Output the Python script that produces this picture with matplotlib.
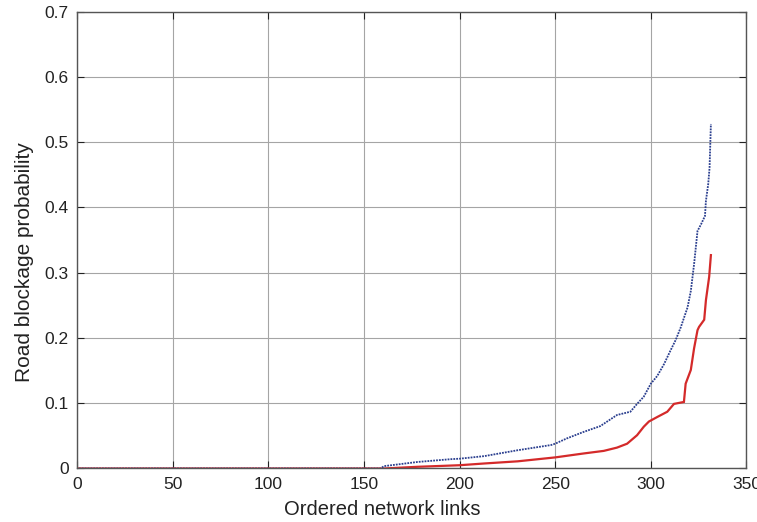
import matplotlib
matplotlib.use("Agg")
import matplotlib.pyplot as plt

# Upper (blue, dotted) series: ordered link index vs blockage probability
blue_x = [1, 158.7, 160.5, 178, 195.5, 200, 213, 230.4, 247.9, 250, 256, 264.8, 273.6,
          282.3, 289.3, 292.8, 296.3, 300, 303.4, 306.9, 310.3, 313, 315.6, 319.2,
          320.9, 322.6, 324.4, 326.2, 328.3, 328.8, 330, 330.7, 331.4]
blue_y = [0, 0, 0.0036, 0.010, 0.0143, 0.015, 0.019, 0.028, 0.036, 0.038, 0.046, 0.056,
          0.065, 0.082, 0.087, 0.099, 0.110, 0.130, 0.142, 0.160, 0.181, 0.197, 0.216,
          0.247, 0.272, 0.313, 0.364, 0.374, 0.387, 0.410, 0.436, 0.461, 0.528]

# Lower (red, solid) series
red_x = [1, 160.5, 178, 200, 213, 230.4, 250, 264.8, 275.4, 282.3, 287.6, 292.8, 296.3,
         299, 303.4, 308.6, 312.1, 317.3, 318.2, 320.9, 322.6, 324.4, 325.2, 327.9,
         328.8, 330.5, 331.4]
red_y = [0, 0, 0.0026, 0.005, 0.0077, 0.011, 0.017, 0.023, 0.027, 0.032, 0.038, 0.051,
         0.064, 0.072, 0.079, 0.087, 0.099, 0.102, 0.130, 0.151, 0.184, 0.212, 0.217,
         0.228, 0.258, 0.294, 0.327]

x_ticks = [0, 50, 100, 150, 200, 250, 300, 350]
y_ticks = [0, 0.1, 0.2, 0.3, 0.4, 0.5, 0.6, 0.7]
y_tick_labels = ["0", "0.1", "0.2", "0.3", "0.4", "0.5", "0.6", "0.7"]

plt.rcParams['font.family'] = ['Liberation Sans', 'DejaVu Sans']

fig = plt.figure(figsize=(7.57, 5.22), dpi=100)
ax = fig.add_axes([0.1017, 0.1025, 0.8844, 0.875])

ax.plot(red_x, red_y, color="#d42a2a", lw=1.6, solid_joinstyle="miter")
ax.plot(blue_x, blue_y, color="#2b3f8f", lw=1.3, ls=(0, (1, 0.6)))

ax.set_xlim(0, 350)
ax.set_ylim(0, 0.7)
ax.set_xticks(x_ticks)
ax.set_yticks(y_ticks)
ax.set_yticklabels(y_tick_labels)
ax.grid(True, color="#a5a5a5", lw=0.8)
ax.set_axisbelow(True)
ax.tick_params(direction="in", length=5, width=0.8, top=True, right=True,
               labelsize=12.5, colors="#222222", pad=6)
for sp in ax.spines.values():
    sp.set_color("#555555")
    sp.set_linewidth(1.0)

ax.set_xlabel("Ordered network links", fontsize=14.5, color="#222222", va="center")
ax.xaxis.set_label_coords(0.456, -0.0887)
ax.set_ylabel("Road blockage probability", fontsize=15, color="#222222", va="center")
ax.yaxis.set_label_coords(-0.079, 0.453)

fig.savefig("out.png", dpi=100)
